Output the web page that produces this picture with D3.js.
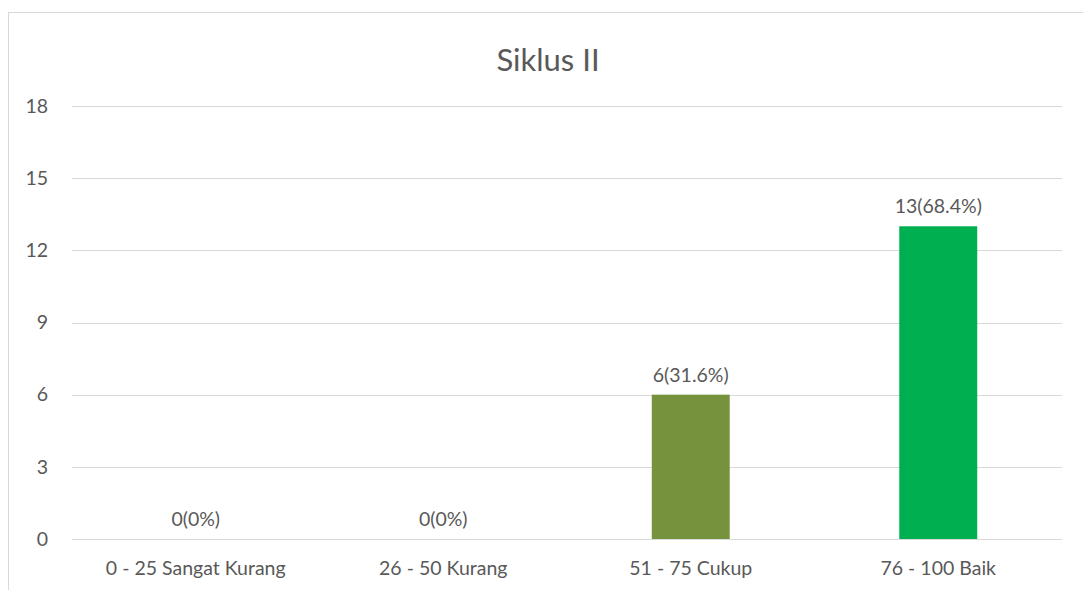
<!DOCTYPE html>
<html>
<head>
<meta charset="utf-8">
<script src="https://cdn.jsdelivr.net/npm/d3@7"></script>
<style>
  body { margin: 0; background: #fff; }
  text { font-family: Lato, "Open Sans", sans-serif; fill: #595959; }
</style>
</head>
<body>
<svg width="1083" height="590"></svg>
<script>
// Data
var categories = ["0 - 25 Sangat Kurang", "26 - 50 Kurang", "51 - 75 Cukup", "76 - 100 Baik"];
var values = [0, 0, 6, 13];
var labels = ["0(0%)", "0(0%)", "6(31.6%)", "13(68.4%)"];
var colors = ["#76923C", "#76923C", "#76923C", "#00B050"];
var yTicks = [0, 3, 6, 9, 12, 15, 18];

var svg = d3.select("svg"),
  width = +svg.attr("width"),
  height = +svg.attr("height");

var margin = { top: 106, right: 21, bottom: 51, left: 72 };
var fs = "19.5px";

// chart frame
svg.append("rect")
  .attr("x", 8.5).attr("y", 12.5)
  .attr("width", 1100).attr("height", 620)
  .attr("fill", "none")
  .attr("stroke", "#d9d9d9");

var x = d3.scaleBand()
  .domain(categories)
  .range([margin.left, width - margin.right])
  .paddingInner(0.685)
  .paddingOuter(0.3425);

var y = d3.scaleLinear()
  .domain([0, 18])
  .range([height - margin.bottom, margin.top]);

// gridlines
svg.append("g")
  .selectAll("line")
  .data(yTicks)
  .enter().append("line")
    .attr("x1", margin.left)
    .attr("x2", width - margin.right)
    .attr("y1", function(d) { return Math.round(y(d)) + 0.5; })
    .attr("y2", function(d) { return Math.round(y(d)) + 0.5; })
    .attr("stroke", "#d9d9d9")
    .attr("stroke-width", 1);

// y axis
var yAxis = svg.append("g")
  .attr("transform", "translate(" + 48 + ",0)")
  .call(d3.axisLeft(y).tickValues(yTicks).tickSize(0).tickPadding(0));
yAxis.select(".domain").remove();
yAxis.selectAll("text").style("font-size", fs).attr("fill", "#595959");

// x axis
var xAxis = svg.append("g")
  .attr("transform", "translate(0," + (height - margin.bottom) + ")")
  .call(d3.axisBottom(x).tickSize(0).tickPadding(22));
xAxis.select(".domain").remove();
xAxis.selectAll("text").style("font-size", fs).attr("fill", "#595959");

// bars
svg.append("g")
  .selectAll("rect")
  .data(values)
  .enter().append("rect")
    .attr("x", function(d, i) { return x(categories[i]); })
    .attr("y", function(d) { return y(d); })
    .attr("width", x.bandwidth())
    .attr("height", function(d) { return y(0) - y(d); })
    .attr("fill", function(d, i) { return colors[i]; });

// data labels
svg.append("g")
  .selectAll("text")
  .data(values)
  .enter().append("text")
    .attr("x", function(d, i) { return x(categories[i]) + x.bandwidth() / 2; })
    .attr("y", function(d) { return y(d) - 13; })
    .attr("text-anchor", "middle")
    .style("font-size", fs)
    .text(function(d, i) { return labels[i]; });

// title
svg.append("text")
  .attr("x", 548)
  .attr("y", 71)
  .attr("text-anchor", "middle")
  .style("font-size", "31px")
  .text("Siklus II");
</script>
</body>
</html>
